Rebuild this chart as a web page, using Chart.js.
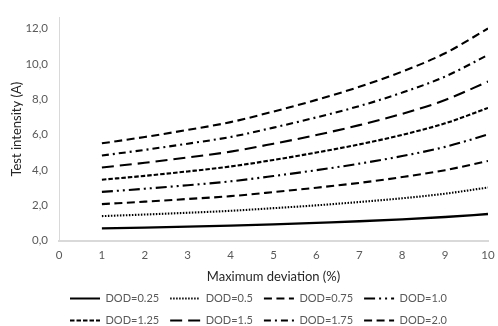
<!DOCTYPE html>
<html lang="en">
<head>
  <meta charset="UTF-8" />
  <title>Test intensity vs maximum deviation</title>
  <script src="https://cdn.jsdelivr.net/npm/chart.js"></script>
  <style>
    html, body { margin: 0; padding: 0; background: #fff; }
    #wrap { width: 498px; height: 326px; }
  </style>
</head>
<body>
  <div id="wrap"><canvas id="chart"></canvas></div>

  <script>
    // Maximum deviation (%)
    const xValues = [1, 2, 3, 4, 5, 6, 7, 8, 9, 10];

    const seriesNames = ['DOD=0.25', 'DOD=0.5', 'DOD=0.75', 'DOD=1.0',
                         'DOD=1.25', 'DOD=1.5', 'DOD=1.75', 'DOD=2.0'];

    // Test intensity (A)
    const dod025 = [0.69, 0.73, 0.78, 0.84, 0.91, 1.00, 1.09, 1.20, 1.33, 1.50];
    const dod050 = [1.38, 1.47, 1.57, 1.68, 1.83, 1.99, 2.18, 2.39, 2.65, 3.00];
    const dod075 = [2.06, 2.20, 2.35, 2.51, 2.74, 2.99, 3.26, 3.59, 3.98, 4.50];
    const dod100 = [2.75, 2.93, 3.13, 3.35, 3.65, 3.98, 4.35, 4.78, 5.30, 6.00];
    const dod125 = [3.44, 3.66, 3.91, 4.19, 4.56, 4.98, 5.44, 5.98, 6.63, 7.50];
    const dod150 = [4.13, 4.40, 4.70, 5.03, 5.48, 5.97, 6.53, 7.17, 7.95, 9.00];
    const dod175 = [4.81, 5.13, 5.48, 5.86, 6.39, 6.97, 7.61, 8.37, 9.28, 10.50];
    const dod200 = [5.50, 5.86, 6.26, 6.70, 7.30, 7.96, 8.70, 9.56, 10.60, 12.00];

    const yTicks = [0, 2, 4, 6, 8, 10, 12];

    const series = [dod025, dod050, dod075, dod100, dod125, dod150, dod175, dod200];

    // line patterns, same order as the series
    const dashes = [
      [],                    // solid
      [1.5, 1.5],            // round dot
      [8, 4.5],              // dash
      [11, 4, 2, 4, 2, 4],   // long dash dot dot
      [4.5, 2],              // square dot
      [12, 6],               // long dash
      [7, 4, 2, 4],          // dash dot
      [8, 4.5]               // dash
    ];

    const datasets = series.map((vals, i) => ({
      label: seriesNames[i],
      data: vals.map((v, j) => ({ x: xValues[j], y: v })),
      borderColor: '#000',
      backgroundColor: '#000',
      borderWidth: i === 0 ? 2.3 : 2.1,
      borderDash: dashes[i],
      pointRadius: 0,
      cubicInterpolationMode: 'monotone',
      fill: false
    }));

    const grey = '#595959';

    new Chart(document.getElementById('chart'), {
      type: 'line',
      data: { datasets: datasets },
      options: {
        responsive: true,
        maintainAspectRatio: false,
        animation: false,
        layout: { padding: { top: 0, right: 0, bottom: -10, left: 0 } },
        plugins: {
          tooltip: { enabled: false },
          legend: {
            position: 'bottom',
            align: 'start',
            fullSize: false,
            labels: {
              usePointStyle: true,
              pointStyleWidth: 30,
              padding: 11,
              color: grey,
              font: { family: 'Lato', size: 11 },
              generateLabels: chart => chart.data.datasets.map((ds, i) => ({
                text: ds.label,
                fillStyle: 'rgba(0,0,0,0)',
                strokeStyle: '#000',
                lineWidth: 2,
                lineDash: ds.borderDash,
                pointStyle: 'line',
                fontColor: grey,
                hidden: false,
                datasetIndex: i
              }))
            }
          }
        },
        scales: {
          x: {
            type: 'linear',
            min: 0,
            max: 10,
            grid: { display: false, drawTicks: false },
            border: { color: '#d9d9d9', width: 2 },
            afterFit: scale => {
              scale.height = 41.5;
              scale.paddingRight = 10;
            },
            ticks: {
              stepSize: 1,
              padding: 8,
              color: grey,
              font: { family: 'Lato', size: 11.5 }
            },
            title: {
              display: true,
              text: 'Maximum deviation (%)',
              color: '#262626',
              font: { family: 'Lato', size: 13 },
              padding: { top: 4, bottom: -3 }
            }
          },
          y: {
            min: 0,
            max: 12.6,
            grid: { display: false, drawTicks: false },
            border: { color: '#d9d9d9', width: 1 },
            afterFit: scale => { scale.width = 59; },
            afterBuildTicks: scale => {
              scale.ticks = yTicks.map(v => ({ value: v }));
            },
            ticks: {
              padding: 11,
              color: grey,
              font: { family: 'Lato', size: 11.5 },
              callback: v => v.toFixed(1).replace('.', ',')
            },
            title: {
              display: true,
              text: 'Test intensity (A)',
              color: '#262626',
              font: { family: 'Lato', size: 13 },
              padding: { top: 9, bottom: 0 }
            }
          }
        }
      }
    });
  </script>
</body>
</html>
